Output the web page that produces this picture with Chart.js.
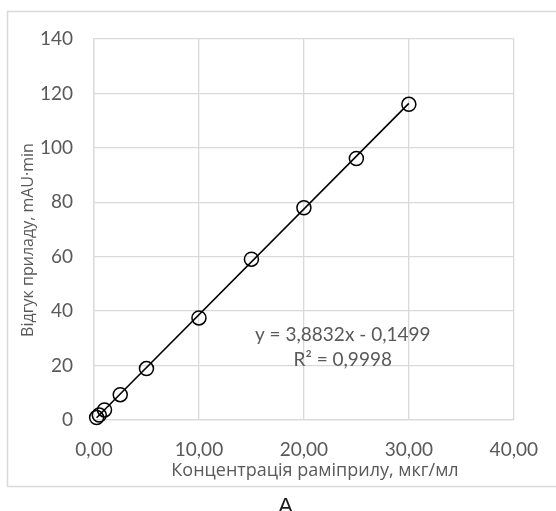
<!DOCTYPE html>
<html>
<head>
<meta charset="utf-8">
<script src="https://cdn.jsdelivr.net/npm/chart.js@4"></script>
<style>
  body { margin: 0; background: #fff; }
  canvas { display: block; }
</style>
</head>
<body>
<canvas id="myChart" width="556" height="511"></canvas>
<script>
// concentration, mkg/ml
var concentration = [0.25, 0.5, 1, 2.5, 5, 10, 15, 20, 25, 30];
// detector response, mAU*min
var response = [0.9, 1.8, 3.7, 9.3, 18.9, 37.5, 59.1, 78.0, 96.1, 116.0];
// linear trendline ends (Excel)
var trendX = [0.25, 30];
var trendY = [0.82, 116.35];

var xTickLabels = ['0,00', '10,00', '20,00', '30,00', '40,00'];
var yTickLabels = ['0', '20', '40', '60', '80', '100', '120', '140'];

var xTitle = 'Концентрація раміприлу, мкг/мл';
var yTitle = 'Відгук приладу, mAU·min';
var equationText = 'y = 3,8832x - 0,1499';
var r2Text = 'R\u00B2 = 0,9998';
var panelLabel = 'A';

var greyText = '#595959';
var gridColor = '#d9d9d9';

var points = concentration.map(function (c, i) {
    return { x: c, y: response[i] };
});
var trend = trendX.map(function (c, i) {
    return { x: c, y: trendY[i] };
});

var extras = {
    id: 'extras',
    beforeDraw: function (chart) {
        var ctx = chart.ctx;
        ctx.save();
        ctx.fillStyle = '#fff';
        ctx.fillRect(0, 0, chart.width, chart.height);
        ctx.strokeStyle = gridColor;
        ctx.lineWidth = 1.5;
        ctx.strokeRect(7.5, 11.5, 560, 475);
        ctx.restore();
    },
    afterDraw: function (chart) {
        var ctx = chart.ctx;
        var xs = chart.scales.x;
        var ys = chart.scales.y;
        ctx.save();
        ctx.fillStyle = greyText;
        ctx.textAlign = 'center';
        ctx.textBaseline = 'middle';

        // axis titles
        ctx.font = '18px "Open Sans"';
        ctx.fillText(xTitle, 315, 471);
        ctx.save();
        ctx.translate(28, 240);
        ctx.rotate(-Math.PI / 2);
        ctx.font = '16px "Open Sans"';
        ctx.fillText(yTitle, 0, 0);
        ctx.restore();

        // trendline label
        ctx.font = '19px Lato';
        var cx = xs.getPixelForValue(23.7);
        ctx.fillText(equationText, cx, ys.getPixelForValue(31.2));
        ctx.fillText(r2Text, cx, ys.getPixelForValue(22.0));

        ctx.fillStyle = '#1a1a1a';
        ctx.font = '22px "Liberation Sans"';
        ctx.textBaseline = 'alphabetic';
        ctx.fillText(panelLabel, 285.5, 513);
        ctx.restore();
    }
};

var myChart = new Chart('myChart', {
    type: 'scatter',
    data: {
        datasets: [{
            label: 'trend',
            data: trend,
            showLine: true,
            borderColor: '#000',
            borderWidth: 1.6,
            pointRadius: 0,
            fill: false,
            clip: false
        }, {
            label: 'points',
            data: points,
            showLine: false,
            clip: false,
            pointRadius: 7,
            pointBorderWidth: 1.5,
            pointBorderColor: '#000',
            pointBackgroundColor: 'rgba(255,255,255,0)'
        }]
    },
    options: {
        responsive: false,
        animation: false,
        layout: { padding: { left: 0, top: 39, right: 35, bottom: 0 } },
        plugins: {
            legend: { display: false },
            tooltip: { enabled: false }
        },
        scales: {
            x: {
                type: 'linear',
                min: 0,
                max: 40,
                afterFit: function (scale) { scale.height = 91; },
                ticks: {
                    stepSize: 10,
                    padding: 18,
                    color: greyText,
                    font: { family: 'Lato', size: 19 },
                    maxRotation: 0,
                    callback: function (value, index) { return xTickLabels[index]; }
                },
                grid: { color: gridColor, lineWidth: 1.3, drawTicks: false },
                border: { display: true, color: gridColor, width: 1.3 }
            },
            y: {
                type: 'linear',
                min: 0,
                max: 140,
                afterFit: function (scale) { scale.width = 94; },
                ticks: {
                    stepSize: 20,
                    padding: 21,
                    color: greyText,
                    font: { family: 'Lato', size: 19 },
                    callback: function (value, index) { return yTickLabels[index]; }
                },
                grid: { color: gridColor, lineWidth: 1.3, drawTicks: false },
                border: { display: true, color: gridColor, width: 1.3 }
            }
        }
    },
    plugins: [extras]
});
</script>
</body>
</html>
